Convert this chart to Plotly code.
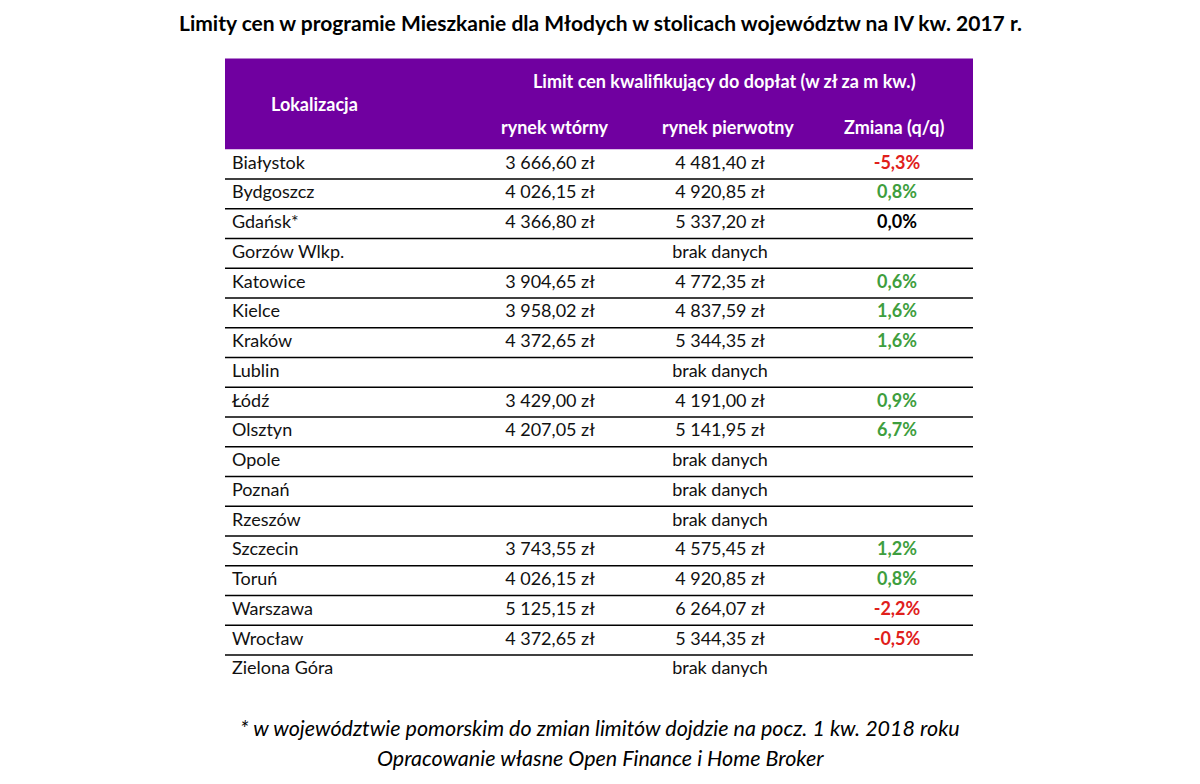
import plotly.graph_objects as go

# Data
cities = ['Białystok', 'Bydgoszcz', 'Gdańsk*', 'Gorzów Wlkp.', 'Katowice', 'Kielce', 'Kraków',
          'Lublin', 'Łódź', 'Olsztyn', 'Opole', 'Poznań', 'Rzeszów', 'Szczecin', 'Toruń',
          'Warszawa', 'Wrocław', 'Zielona Góra']
secondary = ['3 666,60 zł', '4 026,15 zł', '4 366,80 zł', '', '3 904,65 zł', '3 958,02 zł',
             '4 372,65 zł', '', '3 429,00 zł', '4 207,05 zł', '', '', '', '3 743,55 zł',
             '4 026,15 zł', '5 125,15 zł', '4 372,65 zł', '']
primary = ['4 481,40 zł', '4 920,85 zł', '5 337,20 zł', 'brak danych', '4 772,35 zł',
           '4 837,59 zł', '5 344,35 zł', 'brak danych', '4 191,00 zł', '5 141,95 zł',
           'brak danych', 'brak danych', 'brak danych', '4 575,45 zł', '4 920,85 zł',
           '6 264,07 zł', '5 344,35 zł', 'brak danych']
change = [-5.3, 0.8, 0.0, None, 0.6, 1.6, 1.6, None, 0.9, 6.7, None, None, None, 1.2, 0.8,
          -2.2, -0.5, None]

title = 'Limity cen w programie Mieszkanie dla Młodych w stolicach województw na IV kw. 2017 r.'
footnotes = ['* w województwie pomorskim do zmian limitów dojdzie na pocz. 1 kw. 2018 roku',
             'Opracowanie własne Open Finance i Home Broker']

FONT = 'Lato'
PURPLE = '#7000A0'
RED = '#E0201B'
GREEN = '#3E9E3E'
SIZE = 18
rows = list(range(len(cities)))


def fmt(v):
    return '' if v is None else ('%.1f%%' % v).replace('.', ',')


def col(v):
    if v is None or v == 0:
        return 'black'
    return RED if v < 0 else GREEN


fig = go.Figure()
fig.add_trace(go.Scatter(x=[232] * len(rows), y=rows, text=cities, mode='text',
                         textposition='middle right', textfont=dict(family=FONT, size=SIZE, color='#111')))
fig.add_trace(go.Scatter(x=[550] * len(rows), y=rows, text=secondary, mode='text',
                         textfont=dict(family=FONT, size=SIZE, color='#111')))
fig.add_trace(go.Scatter(x=[720] * len(rows), y=rows, text=primary, mode='text',
                         textfont=dict(family=FONT, size=SIZE, color='#111')))
fig.add_trace(go.Scatter(x=[897] * len(rows), y=rows, text=['<b>%s</b>' % fmt(v) for v in change],
                         mode='text', textfont=dict(family=FONT, size=SIZE, color=[col(v) for v in change])))

# header band and row separators
shapes = [dict(type='rect', x0=225, x1=973, y0=-3.55, y1=-0.5, fillcolor=PURPLE, line_width=0, layer='below')]
for r in rows[:-1]:
    shapes.append(dict(type='line', x0=225, x1=973, y0=r + 0.5, y1=r + 0.5, line=dict(color='black', width=1.5)))

hdr = dict(family=FONT, size=SIZE, color='white')
annotations = [
    dict(x=600, y=-4.74, text='<b>%s</b>' % title, font=dict(family=FONT, size=21, color='black')),
    dict(x=314, y=-2.03, text='<b>Lokalizacja</b>', font=hdr),
    dict(x=724, y=-2.78, text='<b>Limit cen kwalifikujący do dopłat (w zł za m kw.)</b>', font=hdr),
    dict(x=555, y=-1.25, text='<b>rynek wtórny</b>', font=hdr),
    dict(x=728, y=-1.25, text='<b>rynek pierwotny</b>', font=hdr),
    dict(x=894, y=-1.25, text='<b>Zmiana (q/q)</b>', font=hdr),
]
for i, t in enumerate(footnotes):
    annotations.append(dict(x=600, y=18.96 + i * 1.01, text='<i>%s</i>' % t,
                            font=dict(family=FONT, size=21.5, color='black')))
for a in annotations:
    a.update(xref='x', yref='y', showarrow=False)

fig.update_layout(
    width=1200, height=784, margin=dict(l=0, r=0, t=0, b=0),
    plot_bgcolor='white', paper_bgcolor='white', showlegend=False,
    shapes=shapes, annotations=annotations,
    xaxis=dict(range=[8, 1208], visible=False, fixedrange=True),
    yaxis=dict(range=[21.109, -5.244], visible=False, fixedrange=True),
)

fig.write_html('out.html')
